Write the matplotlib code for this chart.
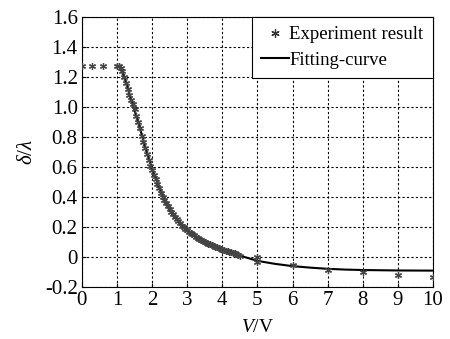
import matplotlib
matplotlib.use("Agg")
import matplotlib.pyplot as plt
from matplotlib.lines import Line2D

plt.rcParams['font.family'] = ['Liberation Serif', 'DejaVu Serif']
plt.rcParams['mathtext.fontset'] = 'custom'
plt.rcParams['mathtext.it'] = 'Liberation Serif:italic'
plt.rcParams['mathtext.rm'] = 'Liberation Serif'

# Experiment result (V, delta/lambda)
exp_x = [0.0, 0.3, 0.6, 1.0, 1.05, 1.1, 1.15, 1.2, 1.25, 1.3, 1.35, 1.4, 1.45, 1.5,
         1.55, 1.6, 1.65, 1.7, 1.75, 1.8, 1.85, 1.9, 1.95, 2.0, 2.05, 2.1, 2.15,
         2.2, 2.25, 2.3, 2.35, 2.4, 2.45, 2.5, 2.55, 2.6, 2.65, 2.7, 2.75, 2.8,
         2.85, 2.9, 2.95, 3.0, 3.05, 3.1, 3.15, 3.2, 3.25, 3.3, 3.35, 3.4, 3.45,
         3.5, 3.55, 3.6, 3.65, 3.7, 3.75, 3.8, 3.85, 3.9, 3.95, 4.0, 4.05, 4.1,
         4.15, 4.2, 4.25, 4.3, 4.35, 4.4, 4.45, 4.5, 5.0, 5.0, 6.0, 7.0, 8.0, 9.0, 10.0]
exp_y = [1.27, 1.27, 1.27, 1.27, 1.27, 1.26, 1.24, 1.20, 1.16, 1.12, 1.08, 1.05,
         1.02, 0.99, 0.94, 0.90, 0.86, 0.81, 0.77, 0.73, 0.69, 0.65, 0.61, 0.58,
         0.55, 0.52, 0.49, 0.46, 0.43, 0.40, 0.38, 0.36, 0.34, 0.32, 0.30, 0.285,
         0.27, 0.255, 0.24, 0.225, 0.21, 0.20, 0.19, 0.18, 0.17, 0.16, 0.152, 0.145,
         0.137, 0.13, 0.122, 0.115, 0.108, 0.10, 0.095, 0.09, 0.085, 0.08, 0.075,
         0.07, 0.065, 0.06, 0.055, 0.05, 0.045, 0.04, 0.038, 0.035, 0.032, 0.03,
         0.025, 0.02, 0.015, 0.01, 0.0, -0.03, -0.053, -0.087, -0.098, -0.12, -0.13]

# Fitting curve
fit_x = [1.1, 1.2, 1.3, 1.4, 1.5, 1.6, 1.7, 1.8, 1.9, 2.0, 2.2, 2.4, 2.6, 2.8,
         3.0, 3.25, 3.5, 3.75, 4.0, 4.5, 5.0, 5.5, 6.0, 6.5, 7.0, 7.5, 8.0, 9.0, 10.0]
fit_y = [1.26, 1.20, 1.13, 1.05, 0.98, 0.90, 0.82, 0.74, 0.66, 0.59, 0.47, 0.37,
         0.29, 0.23, 0.18, 0.14, 0.10, 0.075, 0.05, 0.01, -0.025, -0.045, -0.06,
         -0.07, -0.078, -0.083, -0.086, -0.089, -0.09]

xticks = [0, 1, 2, 3, 4, 5, 6, 7, 8, 9, 10]
yticks = [-0.2, 0, 0.2, 0.4, 0.6, 0.8, 1.0, 1.2, 1.4, 1.6]
ytick_labels = ['-0.2', '0', '0.2', '0.4', '0.6', '0.8', '1.0', '1.2', '1.4', '1.6']

fig = plt.figure(figsize=(4.5, 3.39), dpi=100)
ax = fig.add_axes([0.182, 0.153, 0.78, 0.797])

ax.plot(fit_x, fit_y, color='black', linewidth=1.5, zorder=3)
ax.plot(exp_x, exp_y, linestyle='none', marker=(6, 2, 0), markersize=5,
        markeredgecolor='#444444', markeredgewidth=0.9, zorder=4)

ax.set_xlim(0, 10)
ax.set_ylim(-0.2, 1.6)
ax.set_xticks(xticks)
ax.set_yticks(yticks)
ax.set_yticklabels(ytick_labels)
ax.tick_params(direction='in', length=3, labelsize=15, pad=3)
ax.grid(True, linestyle=(0, (2, 2)), color='black', linewidth=0.8)
for s in ax.spines.values():
    s.set_linewidth(0.8)

ax.set_xlabel(r'$\mathit{V}$/V', fontsize=14, labelpad=6)
ax.set_ylabel(r'$\mathit{\delta}/\mathit{\lambda}$', fontsize=15, labelpad=6)

handles = [Line2D([], [], linestyle='none', marker=(6, 2, 0), markersize=6,
                  markeredgecolor='#333333', markeredgewidth=0.9),
           Line2D([], [], color='black', linewidth=1.5)]
leg = ax.legend(handles, ['Experiment result', 'Fitting-curve'], loc='upper right',
                fontsize=13.5, frameon=True, fancybox=False, framealpha=1,
                edgecolor='black', borderaxespad=0, handlelength=1.5,
                handletextpad=0.0, borderpad=0.5, labelspacing=0.45)
leg.get_frame().set_linewidth(0.8)

fig.savefig('out.png', dpi=100)
